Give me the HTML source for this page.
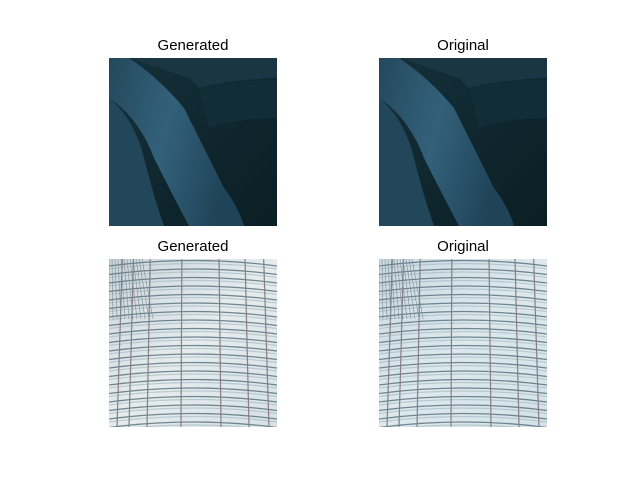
<!DOCTYPE html>
<html><head><meta charset="utf-8"><style>
body{margin:0;background:#fff;width:640px;height:480px;position:relative;overflow:hidden;font-family:"Liberation Sans","DejaVu Sans",sans-serif}
.t{position:absolute;font-size:15px;color:#000;text-align:center;width:168px}
svg.im{position:absolute;width:168px;height:168px}
</style></head><body>
<div class="t" style="left:109px;top:37px">Generated</div>
<div class="t" style="left:379px;top:37px">Original</div>
<div class="t" style="left:109px;top:238px">Generated</div>
<div class="t" style="left:379px;top:238px">Original</div>

<svg width="0" height="0" style="position:absolute">
<defs>
<linearGradient id="legg" x1="0" y1="0" x2="1" y2="0.3"><stop offset="0" stop-color="#24485c"/><stop offset="0.5" stop-color="#33617a"/><stop offset="1" stop-color="#1f4358"/></linearGradient>
<linearGradient id="bgj" x1="0" y1="0" x2="1" y2="1"><stop offset="0" stop-color="#15303a"/><stop offset="1" stop-color="#0b1e24"/></linearGradient>
<linearGradient id="bld" x1="0" y1="0" x2="1" y2="1"><stop offset="0" stop-color="#cbd5da"/><stop offset="0.5" stop-color="#e6ecee"/><stop offset="1" stop-color="#d8e2e6"/></linearGradient>
<g id="jeans">
<rect width="168" height="168" fill="url(#bgj)"/>
<path d="M20 0 L168 0 L168 20 Q120 22 90 30 L80 20 Z" fill="#1a3642"/>
<path d="M90 30 Q130 22 168 22 L168 60 Q130 60 100 70 Z" fill="#122d37"/>
<path d="M0 0 L20 0 Q50 20 75 50 Q95 90 115 130 Q130 150 135 168 L80 168 Q60 130 45 100 Q30 60 0 40 Z" fill="url(#legg)"/>
<path d="M0 40 Q25 60 35 100 Q45 140 55 168 L0 168 Z" fill="#22475b"/>
</g>
</defs>
</svg>

<svg class="im" style="left:109px;top:58px" viewBox="0 0 168 168"><use href="#jeans"/></svg>
<svg class="im" style="left:379px;top:58px" viewBox="0 0 168 168"><use href="#jeans"/></svg>
<svg class="im" id="b1" style="left:109px;top:259px" viewBox="0 0 168 168"></svg>
<svg class="im" id="b2" style="left:379px;top:259px" viewBox="0 0 168 168"></svg>
<script>
function building(id, tint){
  var s=document.getElementById(id), h='';
  h+='<rect width="168" height="168" fill="url(#bld)"/>';
  if(tint) h+='<rect width="168" height="168" fill="#cfe3ea" opacity="0.35"/>';
  for(var y=2;y<185;y+=8.5){
    h+='<path d="M0 '+(y+5)+' Q84 '+(y-6)+' 168 '+(y+5)+'" stroke="#3d5d6c" stroke-width="1.3" fill="none" opacity="0.7"/>';
    h+='<path d="M0 '+(y+8)+' Q84 '+(y-3)+' 168 '+(y+8)+'" stroke="#9fb6c0" stroke-width="1.2" fill="none" opacity="0.6"/>';
  }
  var xs=[8,20,38,72,112,140,160];
  for(var i=0;i<xs.length;i++){
    var x=xs[i], xt=84+(x-84)*0.93;
    h+='<line x1="'+xt+'" y1="0" x2="'+x+'" y2="168" stroke="#8a7e84" stroke-width="1.2"/>';
  }
  for(var k=0;k<12;k++){h+='<line x1="'+(k*3)+'" y1="0" x2="'+(k*4)+'" y2="60" stroke="#7c8e98" stroke-width="0.6"/>';}
  s.innerHTML=h;
}
building('b1',false);building('b2',true);
</script>
</body></html>
